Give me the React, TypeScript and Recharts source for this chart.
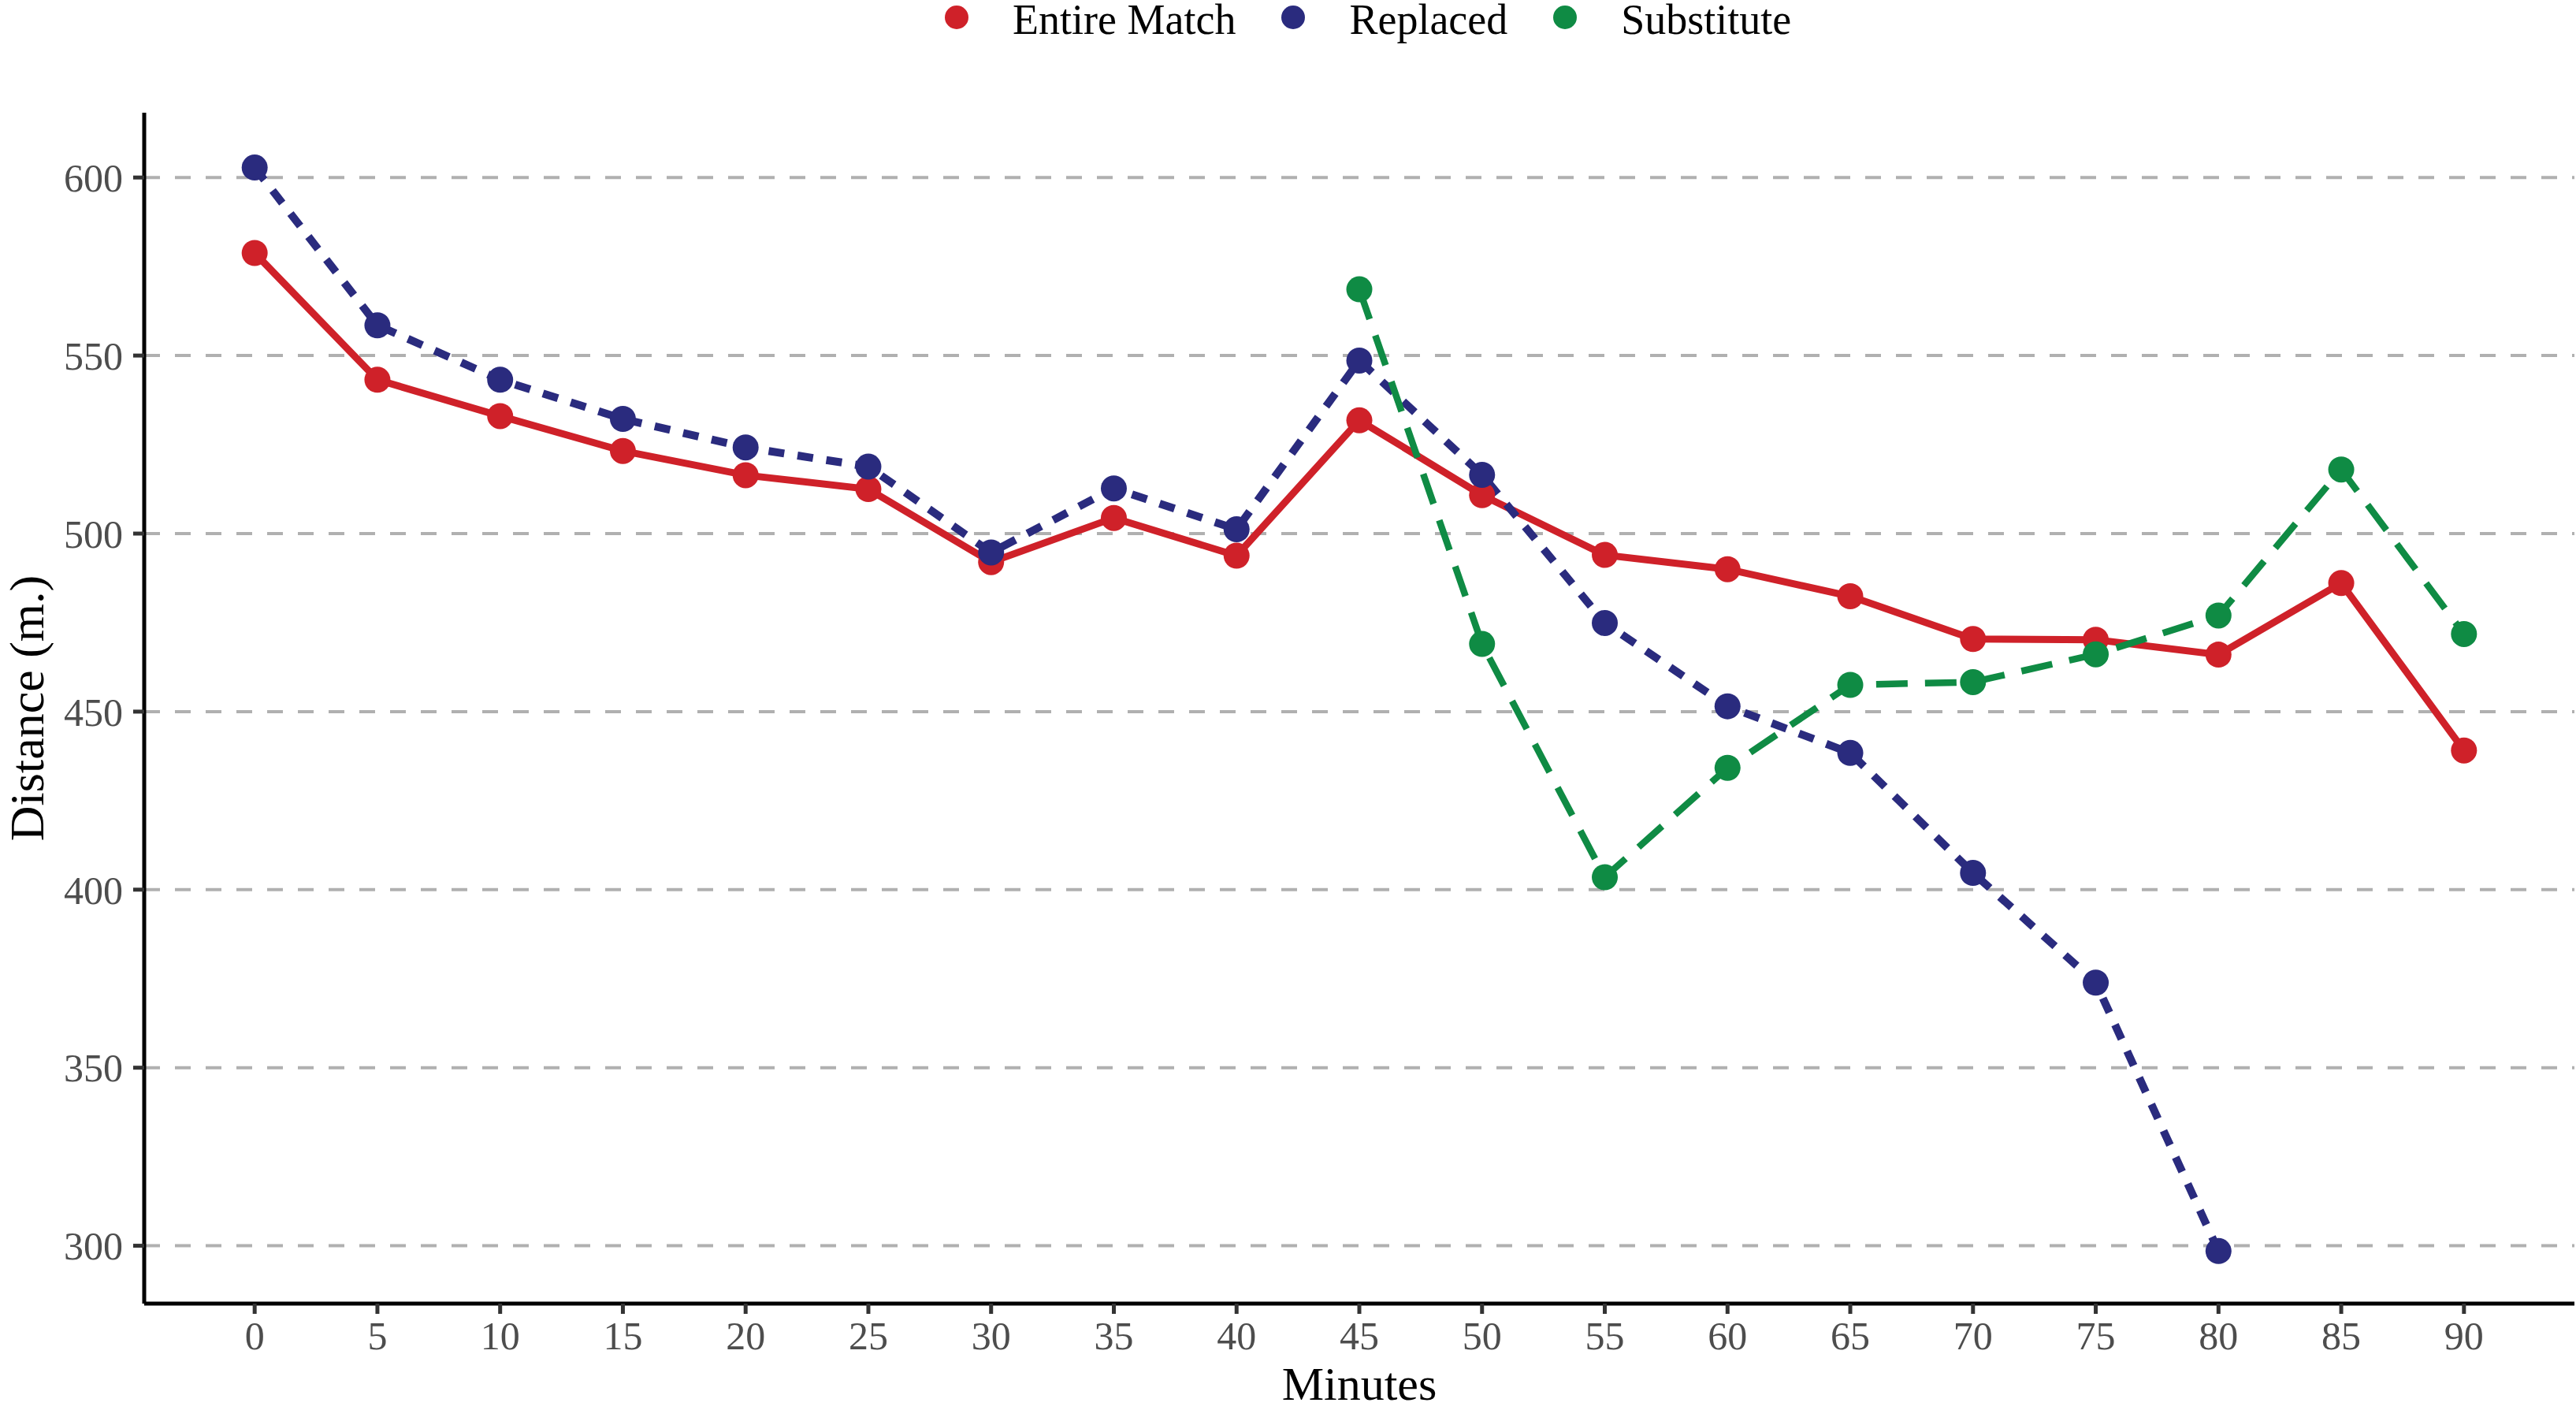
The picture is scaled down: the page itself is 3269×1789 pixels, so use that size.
import { LineChart, Line, XAxis, YAxis, CartesianGrid, Legend, Label } from 'recharts';

// minutes on the x axis
const minutes = [0, 5, 10, 15, 20, 25, 30, 35, 40, 45, 50, 55, 60, 65, 70, 75, 80, 85, 90];
const yTicks = [300, 350, 400, 450, 500, 550, 600];

// distance (m.) per 5-minute block
const entireMatch = [578.8, 543.2, 533.0, 523.2, 516.4, 512.5, 492.0, 504.4, 493.8, 531.8, 510.8, 494.0, 490.0, 482.4, 470.4, 470.2, 466.0, 486.1, 439.1];
const replaced = [602.8, 558.5, 543.2, 532.2, 524.2, 518.8, 494.7, 512.7, 501.2, 548.6, 516.5, 474.9, 451.5, 438.4, 404.7, 373.9, 298.5, null, null];
const substitute = [null, null, null, null, null, null, null, null, null, 568.6, 469.0, 403.5, 434.2, 457.5, 458.3, 466.1, 477.0, 518.0, 471.8];

const seriesNames = ['Entire Match', 'Replaced', 'Substitute'];
const seriesColors = ['#CF2129', '#2A2B7E', '#0F8B44'];

const rows = minutes.map((m, i) => ({
  minute: m,
  entire: entireMatch[i],
  replaced: replaced[i],
  substitute: substitute[i],
}));

const FONT = "'Liberation Serif', 'Times New Roman', serif";

const LegendContent = () => (
  <div style={{ height: 60, display: 'flex', alignItems: 'flex-start', paddingLeft: 1199, fontFamily: FONT }}>
    {seriesNames.map((name, i) => (
      <div key={name} style={{ display: 'flex', alignItems: 'flex-start', marginLeft: i === 0 ? 0 : 58 }}>
        <div
          style={{
            width: 30,
            height: 30,
            borderRadius: '50%',
            background: seriesColors[i],
            marginTop: 6.5,
          }}
        />
        <span style={{ fontSize: 54, lineHeight: '54px', marginTop: -2, marginLeft: 56, color: '#000' }}>
          {name}
        </span>
      </div>
    ))}
  </div>
);

const XTitle = (props: any) => {
  const vb = props.viewBox || { x: 183, y: 1654, width: 3084, height: 135 };
  return (
    <text x={vb.x + vb.width / 2} y={vb.y + vb.height - 13} textAnchor="middle" fontSize={60} fill="#000" fontFamily={FONT}>
      Minutes
    </text>
  );
};

const YTitle = (props: any) => {
  const vb = props.viewBox || { x: 0, y: 143, width: 183, height: 1511 };
  const cx = 55;
  const cy = vb.y + vb.height / 2;
  return (
    <text x={cx} y={cy} transform={`rotate(-90, ${cx}, ${cy})`} textAnchor="middle" fontSize={62} fill="#000" fontFamily={FONT}>
      Distance (m.)
    </text>
  );
};

const tickStyle = { fontSize: 50, fill: '#4D4D4D', fontFamily: FONT };

export default function App() {
  return (
    <div style={{ width: 3269, height: 1789, background: '#fff', fontFamily: FONT }}>
      <style>{`body{margin:0;}`}</style>
      <LineChart width={3269} height={1789} data={rows} margin={{ top: 83, right: 2, bottom: 0, left: 0 }}>
        <CartesianGrid
          vertical={false}
          horizontalValues={yTicks}
          stroke="#B0B0B0"
          strokeWidth={4}
          strokeDasharray="20 19"
        />
        <XAxis
          type="number"
          dataKey="minute"
          domain={[-4.5, 94.5]}
          ticks={minutes}
          interval={0}
          allowDataOverflow
          height={135}
          tickSize={13}
          tickMargin={9}
          axisLine={{ stroke: '#000', strokeWidth: 5 }}
          tickLine={{ stroke: '#333', strokeWidth: 5 }}
          tick={tickStyle}
        >
          <Label content={<XTitle />} />
        </XAxis>
        <YAxis
          type="number"
          domain={[283.75, 618.2]}
          ticks={yTicks}
          interval={0}
          allowDataOverflow
          width={183}
          tickSize={14}
          tickMargin={13}
          axisLine={{ stroke: '#000', strokeWidth: 5 }}
          tickLine={{ stroke: '#333', strokeWidth: 5 }}
          tick={tickStyle}
        >
          <Label content={<YTitle />} />
        </YAxis>
        <Legend verticalAlign="top" content={<LegendContent />} wrapperStyle={{ top: 0, left: 0, width: 3269 }} />
        <Line
          type="linear"
          dataKey="entire"
          name={seriesNames[0]}
          stroke={seriesColors[0]}
          strokeWidth={9}
          dot={{ r: 16.5, fill: seriesColors[0], stroke: 'none' }}
          activeDot={false}
          isAnimationActive={false}
        />
        <Line
          type="linear"
          dataKey="replaced"
          name={seriesNames[1]}
          stroke={seriesColors[1]}
          strokeWidth={10}
          strokeDasharray="20 17"
          dot={{ r: 16.5, fill: seriesColors[1], stroke: 'none' }}
          activeDot={false}
          isAnimationActive={false}
        />
        <Line
          type="linear"
          dataKey="substitute"
          name={seriesNames[2]}
          stroke={seriesColors[2]}
          strokeWidth={8.5}
          strokeDasharray="40 22"
          dot={{ r: 16.5, fill: seriesColors[2], stroke: 'none' }}
          activeDot={false}
          isAnimationActive={false}
        />
      </LineChart>
    </div>
  );
}
